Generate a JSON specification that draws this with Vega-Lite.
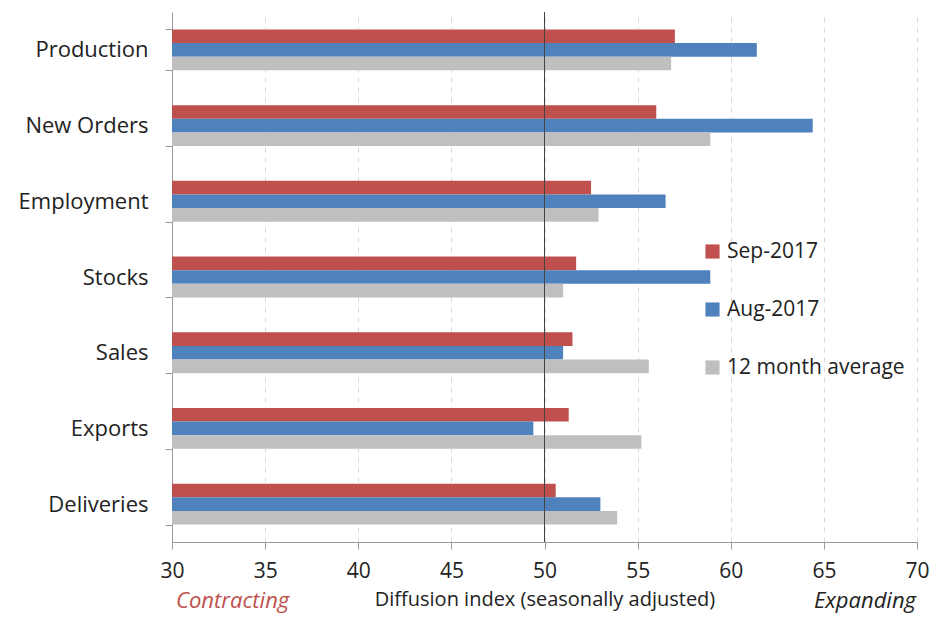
{
  "$schema": "https://vega.github.io/schema/vega-lite/v6.json",
  "width": 745,
  "height": 530,
  "autosize": {"type": "none"},
  "padding": {"left": 172, "top": 12, "right": 30, "bottom": 89},
  "background": "white",
  "config": {
    "view": {"stroke": null},
    "font": "Open Sans",
    "axis": {"labelFont": "Open Sans", "titleFont": "Open Sans"},
    "legend": {"labelFont": "Open Sans"}
  },
  "layer": [
    {
      "data": {
        "values": [
          {"category": "Production", "series": "Sep-2017", "value": 57.0},
          {"category": "Production", "series": "Aug-2017", "value": 61.4},
          {"category": "Production", "series": "12 month average", "value": 56.8},
          {"category": "New Orders", "series": "Sep-2017", "value": 56.0},
          {"category": "New Orders", "series": "Aug-2017", "value": 64.4},
          {"category": "New Orders", "series": "12 month average", "value": 58.9},
          {"category": "Employment", "series": "Sep-2017", "value": 52.5},
          {"category": "Employment", "series": "Aug-2017", "value": 56.5},
          {"category": "Employment", "series": "12 month average", "value": 52.9},
          {"category": "Stocks", "series": "Sep-2017", "value": 51.7},
          {"category": "Stocks", "series": "Aug-2017", "value": 58.9},
          {"category": "Stocks", "series": "12 month average", "value": 51.0},
          {"category": "Sales", "series": "Sep-2017", "value": 51.5},
          {"category": "Sales", "series": "Aug-2017", "value": 51.0},
          {"category": "Sales", "series": "12 month average", "value": 55.6},
          {"category": "Exports", "series": "Sep-2017", "value": 51.3},
          {"category": "Exports", "series": "Aug-2017", "value": 49.4},
          {"category": "Exports", "series": "12 month average", "value": 55.2},
          {"category": "Deliveries", "series": "Sep-2017", "value": 50.6},
          {"category": "Deliveries", "series": "Aug-2017", "value": 53.0},
          {"category": "Deliveries", "series": "12 month average", "value": 53.9}
        ]
      },
      "mark": {"type": "bar"},
      "encoding": {
        "y": {
          "field": "category",
          "type": "nominal",
          "sort": ["Production", "New Orders", "Employment", "Stocks", "Sales", "Exports", "Deliveries"],
          "scale": {"paddingInner": 0.46, "paddingOuter": 0.23},
          "axis": {
            "title": null,
            "domainColor": "#999999",
            "tickColor": "#999999",
            "tickBand": "extent",
            "tickSize": 7,
            "labelFontSize": 22,
            "labelColor": "#222222",
            "labelPadding": 17,
            "labelLimit": 300
          }
        },
        "yOffset": {
          "field": "series",
          "type": "nominal",
          "sort": ["Sep-2017", "Aug-2017", "12 month average"],
          "scale": {"paddingInner": 0, "paddingOuter": 0}
        },
        "x": {
          "field": "value",
          "type": "quantitative",
          "scale": {"domain": [30, 70], "zero": false, "clamp": true},
          "axis": {
            "values": [30, 35, 40, 45, 50, 55, 60, 65, 70],
            "title": "Diffusion index (seasonally adjusted)",
            "titleFontSize": 20,
            "titleFontWeight": "normal",
            "titleColor": "#222222",
            "titlePadding": 8,
            "labelFontSize": 21,
            "labelColor": "#222222",
            "labelPadding": 11,
            "domainColor": "#999999",
            "tickColor": "#999999",
            "tickSize": 7,
            "grid": true,
            "gridColor": "#d9d9d9",
            "gridDash": [5, 5],
            "labelFlush": false
          }
        },
        "color": {
          "field": "series",
          "type": "nominal",
          "sort": ["Sep-2017", "Aug-2017", "12 month average"],
          "scale": {
            "domain": ["Sep-2017", "Aug-2017", "12 month average"],
            "range": ["#C0504D", "#4F81BD", "#BFBFBF"]
          },
          "legend": {
            "title": null,
            "orient": "none",
            "legendX": 530,
            "legendY": 229,
            "symbolType": "square",
            "symbolSize": 200,
            "symbolStrokeWidth": 0,
            "labelFontSize": 21,
            "labelColor": "#222222",
            "labelLimit": 400,
            "rowPadding": 36,
            "labelOffset": 4
          }
        }
      }
    },
    {
      "data": {"values": [{"ref": 50}]},
      "mark": {"type": "rule", "color": "#444444", "strokeWidth": 1},
      "encoding": {"x": {"field": "ref", "type": "quantitative"}}
    },
    {
      "data": {"values": [{"label": "Contracting", "at": 30}]},
      "mark": {"type": "text", "align": "left", "baseline": "middle", "y": "height", "dy": 59, "dx": 4, "fontSize": 22, "fontStyle": "italic", "color": "#C0504D"},
      "encoding": {"x": {"field": "at", "type": "quantitative"}, "text": {"field": "label"}}
    },
    {
      "data": {"values": [{"label": "Expanding", "at": 70}]},
      "mark": {"type": "text", "align": "right", "baseline": "middle", "y": "height", "dy": 59, "dx": -1, "fontSize": 22, "fontStyle": "italic", "color": "#222222"},
      "encoding": {"x": {"field": "at", "type": "quantitative"}, "text": {"field": "label"}}
    }
  ]
}
